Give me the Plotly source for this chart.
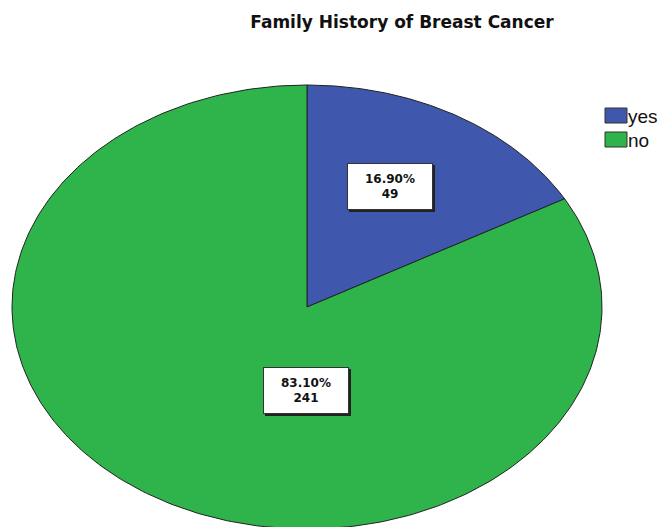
import numpy as np
import plotly.graph_objects as go

categories = ["yes", "no"]
counts = [49, 241]
percents = [16.90, 83.10]
colors = ["#3F57AC", "#2EB44B"]
title = "Family History of Breast Cancer"

W, H = 668, 527
# ellipse geometry in pixels (unit circle mapped to ellipse through axis ranges)
cx_px, cy_px, rx_px, ry_px = 307, 307, 295, 222
x0 = -cx_px / rx_px
x1 = (W - cx_px) / rx_px
y1 = cy_px / ry_px
y0 = -(H - cy_px) / ry_px

fig = go.Figure()
total = sum(counts)
start = 0.0
for cat, c, col in zip(categories, counts, colors):
    frac = c / total
    th = np.linspace(start, start + frac * 2 * np.pi, 300)
    xs = np.concatenate([[0], np.sin(th), [0]])
    ys = np.concatenate([[0], np.cos(th), [0]])
    fig.add_trace(go.Scatter(x=xs, y=ys, mode="lines", fill="toself",
                             fillcolor=col, line=dict(color="#222222", width=1),
                             name=cat, hoverinfo="name", showlegend=False))
    start += frac * 2 * np.pi

font_fam = "DejaVu Sans, Verdana, sans-serif"
label_pos_px = [(390, 186), (306, 390)]
for (px, py), p, c in zip(label_pos_px, percents, counts):
    ax = (px - cx_px) / rx_px
    ay = (cy_px - py) / ry_px
    # shadow
    fig.add_annotation(x=ax, y=ay, xshift=2, yshift=-2, text=" ", showarrow=False,
                       width=84, height=45, bgcolor="#222222", borderwidth=0)
    fig.add_annotation(x=ax, y=ay, text=f"<b>{p:.2f}%<br>{c}</b>", showarrow=False,
                       width=82, height=43, bgcolor="white", bordercolor="#333333",
                       borderwidth=1, font=dict(family=font_fam, size=12, color="#111111"))

# legend drawn manually
leg_x, leg_y, sw_w, sw_h, gap = 605, 108, 22, 15, 24
for i, (cat, col) in enumerate(zip(categories, colors)):
    top = leg_y + i * gap
    fig.add_shape(type="rect", xref="paper", yref="paper",
                  x0=leg_x / W, x1=(leg_x + sw_w) / W,
                  y0=1 - (top + sw_h) / H, y1=1 - top / H,
                  fillcolor=col, line=dict(color="#333333", width=1))
    fig.add_annotation(xref="paper", yref="paper", x=(leg_x + sw_w - 1) / W,
                       y=1 - (top + sw_h / 2 + 1) / H, xanchor="left", yanchor="middle",
                       text=cat, showarrow=False,
                       font=dict(family="Liberation Sans, Arial", size=19, color="#111111"))

fig.update_layout(
    width=W, height=H,
    margin=dict(l=0, r=0, t=0, b=0),
    paper_bgcolor="white", plot_bgcolor="white",
    xaxis=dict(range=[x0, x1], visible=False, fixedrange=True),
    yaxis=dict(range=[y0, y1], visible=False, fixedrange=True),
    title=dict(text=f"<b>{title}</b>", x=402 / W, xanchor="center",
               y=1 - 22 / H, yanchor="middle", yref="container",
               font=dict(family=font_fam, size=17, color="#111111")),
    showlegend=False,
)
fig.write_html("out.html", config={"displayModeBar": False})

# remove default body margin so the figure fills the window exactly
with open("out.html", "r", encoding="utf-8") as f:
    html = f.read()
html = html.replace("<body>", '<body style="margin:0;padding:0;overflow:hidden">', 1)
with open("out.html", "w", encoding="utf-8") as f:
    f.write(html)
